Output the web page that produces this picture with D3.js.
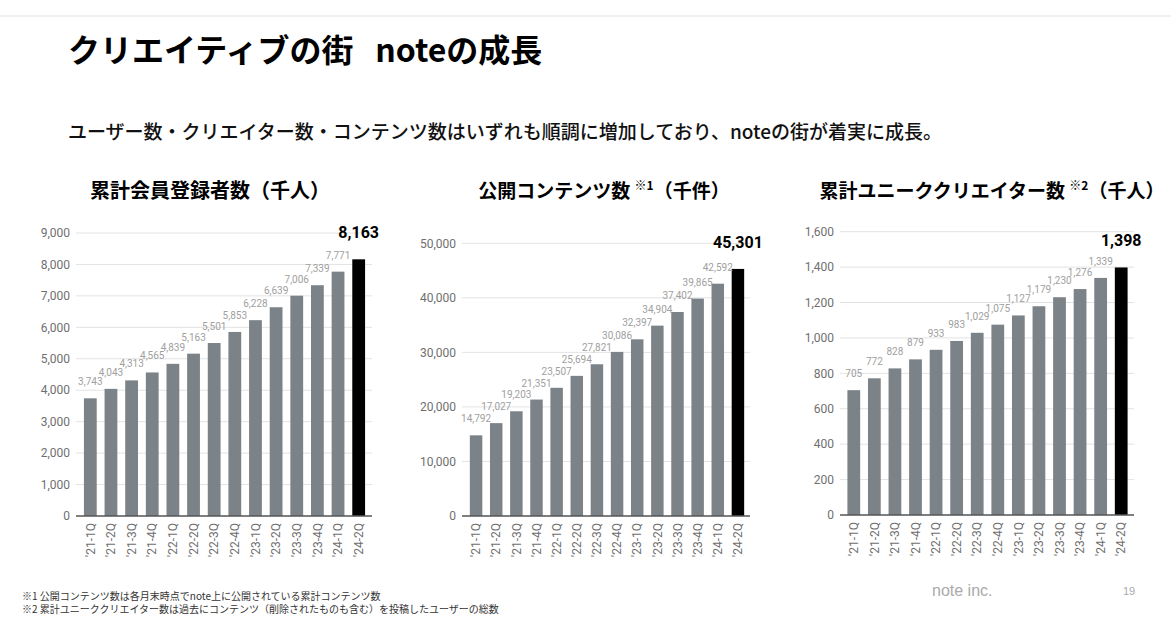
<!DOCTYPE html>
<html>
<head>
<meta charset="utf-8">
<script src="https://cdn.jsdelivr.net/npm/d3@7"></script>
<style>
  html, body { margin: 0; padding: 0; background: #fff; }
  svg { display: block; }
</style>
</head>
<body>
<svg id="chart" width="1171" height="637"></svg>
<script>
// ---- Data ----
const quarters = ["'21-1Q","'21-2Q","'21-3Q","'21-4Q","'22-1Q","'22-2Q","'22-3Q","'22-4Q","'23-1Q","'23-2Q","'23-3Q","'23-4Q","'24-1Q","'24-2Q"];
const members  = [3743,4043,4313,4565,4839,5163,5501,5853,6228,6639,7006,7339,7771,8163];
const contents = [14792,17027,19203,21351,23507,25694,27821,30086,32397,34904,37402,39865,42592,45301];
const creators = [705,772,828,879,933,983,1029,1075,1127,1179,1230,1276,1339,1398];
const membersTicks  = [0,1000,2000,3000,4000,5000,6000,7000,8000,9000];
const contentsTicks = [0,10000,20000,30000,40000,50000];
const creatorsTicks = [0,200,400,600,800,1000,1200,1400,1600];

const pageTitle = "クリエイティブの街\u00a0\u00a0\u00a0noteの成長";
const subTitle = "ユーザー数・クリエイター数・コンテンツ数はいずれも順調に増加しており、noteの街が着実に成長。";
const chartTitles = [
  {main: "累計会員登録者数（千人）", sup: "", tail: ""},
  {main: "公開コンテンツ数 ", sup: "※1", tail: "（千件）"},
  {main: "累計ユニーククリエイター数 ", sup: "※2", tail: "（千人）"}
];
const footnotes = [
  "※1 公開コンテンツ数は各月末時点でnote上に公開されている累計コンテンツ数",
  "※2 累計ユニーククリエイター数は過去にコンテンツ（削除されたものも含む）を投稿したユーザーの総数"
];

// ---- Layout ----
const svg = d3.select("#chart");
const JP = "'Noto Sans CJK JP', 'Noto Sans', sans-serif";
const NUM = "Roboto, 'Noto Sans', sans-serif";

svg.append("line").attr("x1", 0).attr("x2", 1171).attr("y1", 16).attr("y2", 16)
  .attr("stroke", "#ececec").attr("stroke-width", 1.5);

svg.append("text").attr("x", 68).attr("y", 62)
  .attr("font-family", JP).attr("font-weight", 700).attr("font-size", 32)
  .attr("fill", "#000").text(pageTitle);

svg.append("text").attr("x", 68).attr("y", 139)
  .attr("font-family", JP).attr("font-weight", 500).attr("font-size", 19)
  .attr("fill", "#111").text(subTitle);

const panels = [
  {values: members,  ticks: membersTicks,  max: 9000,  xr: [80, 369],       yr: [516, 233],   ax: [76, 372],   titleX: 210, fs: 20},
  {values: contents, ticks: contentsTicks, max: 50000, xr: [466, 748],      yr: [516, 243.3], ax: [462, 750],  titleX: 604, fs: 19},
  {values: creators, ticks: creatorsTicks, max: 1600,  xr: [843.5, 1131.5], yr: [515, 231.7], ax: [840, 1134], titleX: 992, fs: 19}
];

const fmt = d3.format(",");

panels.forEach((p, pi) => {
  const g = svg.append("g");
  const x = d3.scaleBand().domain(quarters).range(p.xr).paddingInner(0.38).paddingOuter(0.19);
  const y = d3.scaleLinear().domain([0, p.max]).range(p.yr);

  // title
  const t = g.append("text").attr("x", p.titleX).attr("y", 198).attr("text-anchor", "middle")
    .attr("font-family", JP).attr("font-weight", 700).attr("font-size", p.fs).attr("fill", "#000");
  t.append("tspan").text(chartTitles[pi].main);
  if (chartTitles[pi].sup) {
    t.append("tspan").attr("font-size", 12).attr("dy", -8).text(chartTitles[pi].sup);
    t.append("tspan").attr("dy", 8).text(chartTitles[pi].tail);
  }

  // gridlines
  g.selectAll(".grid").data(p.ticks.filter(d => d > 0)).join("line")
    .attr("x1", p.ax[0]).attr("x2", p.ax[1])
    .attr("y1", d => y(d)).attr("y2", d => y(d))
    .attr("stroke", "#e3e3e3").attr("stroke-width", 1);

  // y tick labels
  g.selectAll(".yl").data(p.ticks).join("text")
    .attr("x", p.ax[0] - 6).attr("y", d => y(d)).attr("dy", "0.35em")
    .attr("text-anchor", "end").attr("font-family", NUM).attr("font-size", 12)
    .attr("fill", "#6f6f6f").text(d => fmt(d));

  // bars
  g.selectAll(".bar").data(p.values).join("rect")
    .attr("x", (d, i) => x(quarters[i])).attr("width", x.bandwidth())
    .attr("y", d => y(d)).attr("height", d => y(0) - y(d))
    .attr("fill", (d, i) => i === quarters.length - 1 ? "#000" : "#7b8389");

  // baseline
  g.append("line").attr("x1", p.ax[0]).attr("x2", p.ax[1])
    .attr("y1", y(0)).attr("y2", y(0)).attr("stroke", "#555").attr("stroke-width", 1.5);

  // value labels
  g.selectAll(".vl").data(p.values).join("text")
    .attr("x", (d, i) => x(quarters[i]) + x.bandwidth() / 2)
    .attr("y", (d, i) => y(d) - (i === quarters.length - 1 ? 21 : 13))
    .attr("text-anchor", "middle").attr("font-family", NUM)
    .attr("font-size", (d, i) => i === quarters.length - 1 ? 16 : 10)
    .attr("font-weight", (d, i) => i === quarters.length - 1 ? 700 : 400)
    .attr("fill", (d, i) => i === quarters.length - 1 ? "#000" : "#a0a0a0")
    .text(d => fmt(d));

  // x labels (rotated)
  g.selectAll(".xl").data(quarters).join("text")
    .attr("transform", d => `translate(${x(d) + x.bandwidth() / 2},${y(0) + 7}) rotate(-90)`)
    .attr("text-anchor", "end").attr("dy", "0.35em")
    .attr("font-family", NUM).attr("font-size", 12).attr("fill", "#6f6f6f")
    .text(d => d);
});

// footnotes
svg.selectAll(".fn").data(footnotes).join("text")
  .attr("x", 22).attr("y", (d, i) => 600 + i * 13)
  .attr("font-family", JP).attr("font-size", 10).attr("fill", "#333")
  .text(d => d);

svg.append("text").attr("x", 932).attr("y", 596)
  .attr("font-family", "'Liberation Sans', Arial, sans-serif").attr("font-size", 16)
  .attr("fill", "#aaa").text("note inc.");
svg.append("text").attr("x", 1123).attr("y", 595)
  .attr("font-family", "'Liberation Sans', Arial, sans-serif").attr("font-size", 11)
  .attr("fill", "#aaa").text("19");
</script>
</body>
</html>
